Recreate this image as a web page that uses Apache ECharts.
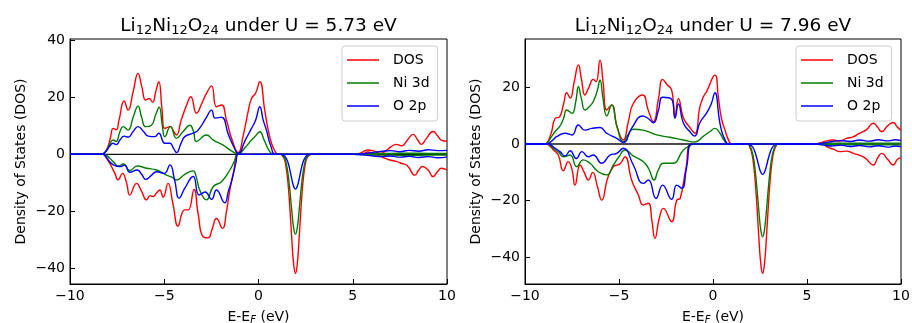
<!DOCTYPE html>
<html><head><meta charset="utf-8">
<script src="https://cdn.jsdelivr.net/npm/echarts@6/dist/echarts.min.js"></script>
<style>html,body{margin:0;padding:0;background:#fff}#c{width:912px;height:323px}</style>
</head><body><div id="c"></div>
<script>
// ---------- data (energy in eV, DOS value) ----------
const SERIES_NAMES = ['DOS', 'Ni 3d', 'O 2p'];
const X_TICKS = [-10, -5, 0, 5, 10];
const L_Y_TICKS = [-40, -20, 0, 20, 40];
const R_Y_TICKS = [-40, -20, 0, 20];
const TITLES = ['Li{s|12}Ni{s|12}O{s|24} under U = 5.73 eV', 'Li{s|12}Ni{s|12}O{s|24} under U = 7.96 eV'];

// Left panel: U = 5.73 eV
const L_DOS_UP = [[-10,0],[-8.4,0],[-8.2,0.4],[-8.0,2.5],[-7.85,6],[-7.71,9.1],[-7.55,8.6],[-7.4,12],[-7.13,18.7],[-6.92,15.5],[-6.65,22],[-6.39,28.4],[-6.2,24],[-5.98,19],[-5.8,19.6],[-5.62,18.3],[-5.45,22],[-5.29,25.5],[-5.12,16],[-4.97,9.1],[-4.67,9.7],[-4.5,8],[-4.35,6.8],[-4.1,12],[-3.8,17.5],[-3.59,20.2],[-3.29,14.4],[-3.0,18],[-2.76,21.4],[-2.49,24],[-2.23,16.7],[-1.96,17.3],[-1.7,12],[-1.4,5],[-1.08,0.6],[-0.8,7],[-0.55,15],[-0.37,19.6],[-0.15,21.5],[0.07,25.5],[0.33,15.5],[0.5,9],[0.69,3.9],[0.9,0.8],[1.05,0],[5.0,0],[5.4,0.4],[5.8,1.5],[6.1,1.2],[6.5,0.3],[6.8,1.5],[7.0,2.5],[7.3,3.5],[7.6,3],[7.9,5],[8.2,7.0],[8.45,5],[8.64,3.5],[8.9,5.5],[9.26,8],[9.5,6.5],[9.7,5],[10,4.6]];
const L_DOS_DN = [[-10,0],[-8.25,0],[-8.15,-0.5],[-7.89,-3.2],[-7.62,-6.7],[-7.45,-9.0],[-7.22,-6.7],[-7.0,-10],[-6.83,-14.3],[-6.47,-10.2],[-6.2,-13],[-5.94,-16.0],[-5.75,-14.5],[-5.6,-14.8],[-5.4,-13.5],[-5.24,-12.5],[-5.06,-15],[-4.8,-10.2],[-4.55,-17],[-4.27,-25.2],[-4.05,-20.5],[-3.91,-19.5],[-3.73,-19.5],[-3.42,-12.3],[-3.2,-21],[-2.94,-28.9],[-2.67,-29.3],[-2.45,-26],[-2.23,-22.5],[-1.91,-26],[-1.7,-20],[-1.52,-12.5],[-1.3,-5.5],[-1.08,0],[1.2,0],[1.26,-0.5],[1.36,-1.5],[1.46,-4.3],[1.56,-9.7],[1.66,-18.4],[1.76,-29],[1.86,-38.2],[1.96,-41.8],[2.06,-38.2],[2.16,-29],[2.26,-18.4],[2.36,-9.7],[2.46,-4.3],[2.56,-1.5],[2.66,-0.5],[2.8,0],[5.5,0],[5.8,0.8],[6.1,0.2],[6.5,-0.8],[6.97,-2],[7.3,-2.5],[7.6,-3.2],[7.9,-4],[8.29,-7.3],[8.5,-5.5],[8.7,-4.3],[9.0,-5.5],[9.26,-7.8],[9.5,-6],[9.7,-4.9],[10,-5.5]];
const L_NI_UP = [[-10,0],[-8.35,0],[-8.1,1],[-7.9,3.5],[-7.71,5.0],[-7.55,4.5],[-7.35,8],[-7.18,9.7],[-6.92,8.5],[-6.65,13],[-6.39,16.9],[-6.2,13],[-5.98,9.7],[-5.68,10.2],[-5.45,14],[-5.27,16.5],[-5.1,10],[-4.97,6.2],[-4.67,9.7],[-4.35,5.6],[-4.0,8],[-3.64,10.2],[-3.45,8],[-3.29,4.5],[-2.76,6.8],[-2.4,5.0],[-1.87,3.2],[-1.5,1.5],[-1.08,0.2],[-0.7,2.5],[-0.37,5],[-0.15,6.5],[0.07,7.9],[0.3,5],[0.55,1.5],[0.8,0],[5.0,0],[6,0.2],[7,0.3],[8,0.4],[9,0.3],[10,0.3]];
const L_NI_DN = [[-10,0],[-8.2,0],[-7.89,-1.4],[-7.65,-3],[-7.45,-4.1],[-7.17,-3.4],[-6.83,-5.7],[-6.43,-4.1],[-5.94,-4.9],[-5.41,-5.5],[-4.88,-7.3],[-4.6,-8],[-4.35,-9],[-3.91,-7.0],[-3.47,-5.8],[-3.3,-8],[-3.12,-12.5],[-2.76,-16.0],[-2.4,-11.3],[-1.96,-9.6],[-1.52,-5.5],[-1.25,-2],[-1.08,0],[1.2,0],[1.26,-0.3],[1.36,-1],[1.46,-2.9],[1.56,-6.5],[1.66,-12.3],[1.76,-19.4],[1.86,-25.6],[1.96,-28],[2.06,-25.6],[2.16,-19.4],[2.26,-12.3],[2.36,-6.5],[2.46,-2.9],[2.56,-1],[2.66,-0.3],[2.8,0],[5,0],[6,-0.2],[7,-0.3],[8,-0.4],[9,-0.3],[10,-0.3]];
const L_O_UP = [[-10,0],[-8.35,0],[-8.1,1],[-7.9,2.8],[-7.71,3.9],[-7.55,3.4],[-7.35,5],[-7.13,6.4],[-6.92,6],[-6.65,8],[-6.39,9.7],[-6.1,8],[-5.85,6.4],[-5.5,6.2],[-5.29,7.4],[-4.97,3.9],[-4.7,3.9],[-4.5,2],[-4.35,0.6],[-4.1,4],[-3.91,6.2],[-3.47,7.4],[-3.2,8.5],[-2.76,13],[-2.49,15.5],[-2.3,12.7],[-1.96,13],[-1.6,7],[-1.3,2.5],[-1.08,0.2],[-0.7,5],[-0.37,9.1],[-0.15,12],[0.07,16.7],[0.25,12],[0.42,8.5],[0.65,3],[0.95,0],[5.0,0],[5.5,0.2],[6.0,0.6],[6.5,1.0],[7.0,1.3],[7.5,0.9],[8.0,1.4],[8.5,1.1],[9.0,1.6],[9.5,1.3],[10,1.4]];
const L_O_DN = [[-10,0],[-8.25,0],[-8.1,-0.8],[-7.9,-2.5],[-7.7,-3.7],[-7.36,-4.3],[-7.1,-3.8],[-6.83,-6.3],[-6.43,-5.5],[-6.2,-7],[-5.98,-8.8],[-5.7,-7.5],[-5.41,-6.1],[-5.0,-6.7],[-4.7,-3.7],[-4.45,-9],[-4.21,-15.4],[-3.91,-11.9],[-3.47,-7.8],[-3.15,-14.3],[-2.83,-13.2],[-2.49,-15.8],[-2.23,-12.5],[-1.79,-17],[-1.6,-13],[-1.41,-9],[-1.2,-3],[-1.08,0],[1.2,0],[1.26,-0.1],[1.36,-0.4],[1.46,-1.3],[1.56,-2.8],[1.66,-5.4],[1.76,-8.5],[1.86,-11.1],[1.96,-12.2],[2.06,-11.1],[2.16,-8.5],[2.26,-5.4],[2.36,-2.8],[2.46,-1.3],[2.56,-0.4],[2.66,-0.1],[2.8,0],[5.0,0],[5.5,-0.2],[6,-0.5],[6.5,-0.8],[7,-0.6],[7.5,-1],[8,-0.7],[8.5,-1.1],[9,-0.8],[9.5,-1.2],[10,-0.9]];

// Right panel: U = 7.96 eV
const R_DOS_UP = [[-10,0],[-9.0,0],[-8.85,0.3],[-8.6,4],[-8.4,9],[-8.16,9.6],[-7.95,14],[-7.78,18.1],[-7.6,16.2],[-7.38,22],[-7.16,27.9],[-7.0,23],[-6.81,17.3],[-6.6,20],[-6.37,22.8],[-6.22,22],[-6.01,29.6],[-5.85,22],[-5.65,12],[-5.39,13.8],[-5.1,6],[-4.77,1.4],[-4.5,8],[-4.24,14.3],[-3.74,17.3],[-3.45,12],[-3.17,7.9],[-2.9,16],[-2.68,22.8],[-2.45,21],[-2.2,19.0],[-2.02,9.6],[-1.84,16.1],[-1.57,9.2],[-1.25,6],[-0.96,3.8],[-0.7,13],[-0.51,16.7],[-0.34,18.5],[0.1,24.3],[0.28,16.7],[0.45,9],[0.64,4.9],[0.85,1],[1.0,0],[5.4,0],[5.8,0.6],[6.1,1.2],[6.4,1.4],[6.75,1],[7.1,2],[7.45,2.5],[7.8,3.8],[8.15,5],[8.53,7.3],[8.75,6],[8.97,4.4],[9.3,6.5],[9.59,7.6],[9.8,6],[10,4.9]];
const R_DOS_DN = [[-10,0],[-8.9,0],[-8.75,-0.3],[-8.5,-2],[-8.23,-3.9],[-7.96,-9.4],[-7.7,-6.2],[-7.5,-9],[-7.34,-14.5],[-7.07,-7.4],[-6.85,-10],[-6.63,-12.7],[-6.4,-10],[-6.15,-15],[-5.92,-19.8],[-5.6,-12],[-5.3,-8.0],[-4.95,-7.0],[-4.68,-4.5],[-4.33,-12.7],[-3.97,-18],[-3.71,-21.5],[-3.44,-20.9],[-3.25,-27],[-3.09,-33.3],[-2.85,-26],[-2.64,-22.7],[-2.2,-27.4],[-1.93,-19.8],[-1.75,-19.2],[-1.45,-9],[-1.13,0],[1.9,0],[1.94,-0.9],[2.04,-2.6],[2.14,-6.2],[2.24,-12.7],[2.34,-22.2],[2.44,-33.1],[2.54,-42.1],[2.64,-45.6],[2.74,-42.1],[2.84,-33.1],[2.94,-22.2],[3.04,-12.7],[3.14,-6.2],[3.24,-2.6],[3.34,-0.9],[3.45,0],[5.5,0],[5.8,0.5],[6.05,-0.9],[6.4,-1.8],[6.76,-2.7],[7.1,-2.5],[7.47,-3.3],[7.8,-4],[8.1,-5],[8.53,-7.4],[8.75,-5],[8.97,-3.3],[9.3,-5.5],[9.59,-7.4],[9.8,-5.5],[10,-4.8]];
const R_NI_UP = [[-10,0],[-9,0],[-8.85,0.2],[-8.6,2.5],[-8.4,4.4],[-8.16,6.1],[-7.95,9],[-7.78,12],[-7.5,10.8],[-7.3,15],[-7.16,20.2],[-7.0,16],[-6.81,12],[-6.6,13],[-6.37,15],[-6.15,19],[-6.01,22.6],[-5.85,16],[-5.65,9.9],[-5.39,13.8],[-5.1,6],[-4.77,0.8],[-4.5,3.5],[-4.24,5.2],[-3.72,4.9],[-3.0,3.2],[-2.3,2.4],[-1.57,1.4],[-0.96,0.7],[-0.5,2.8],[-0.16,4.4],[0.1,5.5],[0.37,3.8],[0.6,1.2],[0.8,0],[5,0],[6,0.2],[7,0.3],[8,0.3],[9,0.3],[10,0.3]];
const R_NI_DN = [[-10,0],[-8.8,0],[-8.5,-1.5],[-8.2,-3],[-7.96,-4.5],[-7.6,-3.9],[-7.25,-8.0],[-6.9,-5.6],[-6.54,-6.8],[-6.1,-9.8],[-5.65,-10.9],[-5.3,-7.4],[-5.0,-4.5],[-4.68,-2.1],[-4.24,-4.2],[-3.71,-6.2],[-3.4,-9],[-3.14,-12.7],[-2.9,-9],[-2.64,-6.8],[-2.15,-6.8],[-1.57,-2.1],[-1.2,-0.5],[-1.0,0],[1.9,0],[1.94,-0.6],[2.04,-1.8],[2.14,-4.4],[2.24,-9.1],[2.34,-15.9],[2.44,-23.7],[2.54,-30.2],[2.64,-32.7],[2.74,-30.2],[2.84,-23.7],[2.94,-15.9],[3.04,-9.1],[3.14,-4.4],[3.24,-1.8],[3.34,-0.6],[3.45,0],[5,0],[6,-0.2],[7,-0.3],[8,-0.3],[9,-0.3],[10,-0.3]];
const R_O_UP = [[-10,0],[-8.9,0],[-8.75,0.2],[-8.5,1.5],[-8.32,2.6],[-7.87,3.8],[-7.5,3.2],[-7.16,6.7],[-6.81,4.9],[-6.45,5.5],[-6.01,5.8],[-5.65,3.8],[-5.12,2],[-4.77,0.5],[-4.33,5.5],[-3.74,9.9],[-3.45,9],[-3.17,7.5],[-2.9,12],[-2.68,16.5],[-2.2,15.8],[-2.02,9.1],[-1.84,14.1],[-1.57,7.3],[-1.25,4.5],[-0.98,2.8],[-0.7,7.5],[-0.34,11],[-0.1,14],[0.1,18.1],[0.37,7.3],[0.6,2],[0.9,0],[5.3,0],[5.8,0.3],[6.3,0.8],[6.8,1.2],[7.3,0.9],[7.8,1.4],[8.3,1.0],[8.8,1.5],[9.3,1.1],[9.7,1.5],[10,1.2]];
const R_O_DN = [[-10,0],[-8.8,0],[-8.4,-1.5],[-8.14,-2.7],[-7.87,-4.2],[-7.6,-2.4],[-7.27,-5.1],[-6.97,-2.7],[-6.63,-4.5],[-6.37,-3.9],[-5.92,-6.8],[-5.48,-3.9],[-5.12,-3.3],[-4.77,-1.5],[-4.24,-7.4],[-3.71,-13.9],[-3.44,-12.7],[-3.03,-19.2],[-2.68,-14.5],[-2.2,-19.5],[-1.93,-14.5],[-1.66,-15.6],[-1.4,-8],[-1.13,0],[1.9,0],[1.94,-0.2],[2.04,-0.6],[2.14,-1.4],[2.24,-3.0],[2.34,-5.2],[2.44,-7.8],[2.54,-9.9],[2.64,-10.7],[2.74,-9.9],[2.84,-7.8],[2.94,-5.2],[3.04,-3.0],[3.14,-1.4],[3.24,-0.6],[3.34,-0.2],[3.45,0],[5.3,0],[5.8,-0.3],[6.3,-0.7],[6.8,-0.4],[7.3,-0.9],[7.8,-0.5],[8.3,-1.0],[8.8,-0.6],[9.3,-1.1],[9.7,-0.7],[10,-1.0]];
const ZERO_LINE = [[-10,0],[10,0]];

// ---------- chart ----------
const FONT = 'DejaVu Sans';
const COLORS = {'DOS':'#ff0000','Ni 3d':'#008000','O 2p':'#0000ff'};
const GRIDS = [
  {left:70, top:39, width:377, height:245, ymin:-45.5, ymax:40.46, yticks:L_Y_TICKS, titleX:258.5, legendX:342},
  {left:525, top:39, width:376, height:245, ymin:-49.38, ymax:37.04, yticks:R_Y_TICKS, titleX:713, legendX:796}
];
const PANEL_DATA = [
  [[L_DOS_UP,L_DOS_DN],[L_NI_UP,L_NI_DN],[L_O_UP,L_O_DN]],
  [[R_DOS_UP,R_DOS_DN],[R_NI_UP,R_NI_DN],[R_O_UP,R_O_DN]]
];
const fmt = v => (v < 0 ? '\u2212' + Math.abs(v) : String(v));

const option = {
  animation:false,
  backgroundColor:'#fff',
  title: GRIDS.map((g,i)=>({
    text: TITLES[i], left:g.titleX, top:15, textAlign:'center', padding:0,
    textStyle:{fontFamily:FONT, fontSize:18.5, fontWeight:'normal', color:'#000', lineHeight:22,
      rich:{s:{fontFamily:FONT, fontSize:13, lineHeight:13, verticalAlign:'bottom', color:'#000'}}}
  })),
  legend: GRIDS.map((g,i)=>({
    data: SERIES_NAMES, orient:'vertical', left:g.legendX, top:46,
    padding:[6,8,7,5], itemGap:7, itemWidth:32, itemHeight:1.5, icon:'rect',
    selectedMode:false, borderColor:'#cccccc', borderWidth:1, borderRadius:3,
    backgroundColor:'rgba(255,255,255,0.8)',
    formatter: n => '{g|}' + n,
    textStyle:{fontFamily:FONT, fontSize:14, lineHeight:16, color:'#000',
      rich:{g:{width:9, height:16}}}
  })),
  grid: GRIDS.map(g=>({left:g.left, top:g.top, width:g.width, height:g.height, show:true, borderColor:'#000', borderWidth:1, containLabel:false, outerBoundsMode:'none'})),
  xAxis: GRIDS.map((g,i)=>({
    type:'value', gridIndex:i, min:-10, max:10, interval:5,
    name:'E-E{f|F} (eV)', nameLocation:'middle', nameGap:21,
    nameTextStyle:{fontFamily:FONT, fontSize:14, lineHeight:18, color:'#000',
      rich:{f:{fontFamily:FONT, fontSize:10, fontStyle:'italic', lineHeight:10, verticalAlign:'bottom', color:'#000'}}},
    axisLine:{show:true, onZero:false, lineStyle:{color:'#000', width:1}},
    axisTick:{show:true, inside:true, length:5, lineStyle:{color:'#000', width:1}},
    axisLabel:{fontFamily:FONT, fontSize:14, color:'#000', margin:5, formatter:fmt, customValues:X_TICKS},
    splitLine:{show:false}
  })),
  yAxis: GRIDS.map((g,i)=>({
    type:'value', gridIndex:i, min:g.ymin, max:g.ymax,
    name:'Density of States (DOS)', nameLocation:'middle', nameGap:42, nameRotate:90,
    nameTextStyle:{fontFamily:FONT, fontSize:14, color:'#000'},
    axisLine:{show:true, onZero:false, lineStyle:{color:'#000', width:1}},
    axisTick:{show:true, inside:true, length:5, lineStyle:{color:'#000', width:1}, customValues:g.yticks},
    axisLabel:{fontFamily:FONT, fontSize:14, color:'#000', margin:5, formatter:fmt, customValues:g.yticks},
    splitLine:{show:false}
  })),
  series: []
};

PANEL_DATA.forEach((panel, gi) => {
  option.series.push({type:'line', name:'zero', data:ZERO_LINE, xAxisIndex:gi, yAxisIndex:gi,
    symbol:'none', lineStyle:{color:'#111', width:1.3}, silent:true});
  panel.forEach((pair, k) => {
    const name = SERIES_NAMES[k], color = COLORS[name];
    pair.forEach(d => option.series.push({
      type:'line', name, data:d, xAxisIndex:gi, yAxisIndex:gi, symbol:'none', showSymbol:false,
      smooth:0.5, lineStyle:{color, width:1.4}, itemStyle:{color},
      emphasis:{disabled:true}, silent:true
    }));
  });
});

const chart = echarts.init(document.getElementById('c'), null, {renderer:'canvas'});
chart.setOption(option);
</script></body></html>
